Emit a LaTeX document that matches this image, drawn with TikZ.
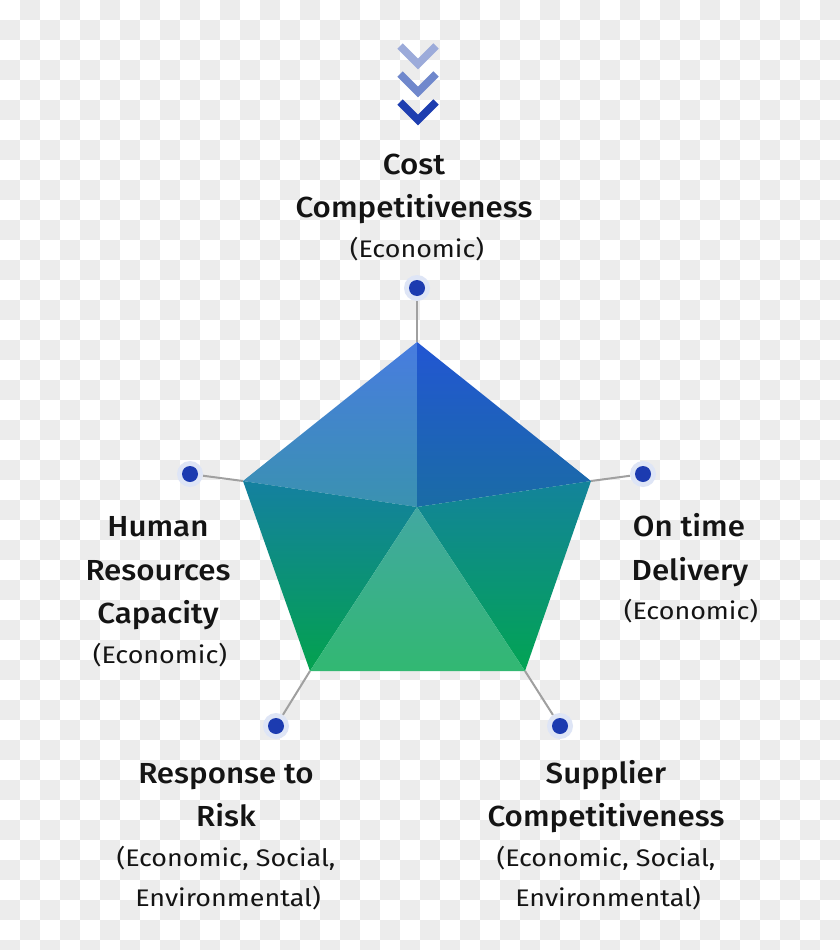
\documentclass[tikz,border=0pt]{standalone}
\usepackage{fontspec}
\setmainfont{Fira Sans}
\newfontfamily\medf[FakeStretch=1.08]{Fira Sans Medium}
\newfontfamily\regf[FakeStretch=1.12]{Fira Sans}
\begin{document}
\begin{tikzpicture}[x=1pt,y=-1pt,
  ttl/.style={font=\medf\fontsize{29}{35}\selectfont, anchor=base, inner sep=0, text=black!92},
  sub/.style={font=\regf\fontsize{24}{29}\selectfont, anchor=base, inner sep=0, text=black!92},
  halo/.style={circle, fill=haloc, minimum size=26pt, inner sep=0},
  dotc/.style={circle, fill=dotblue, minimum size=16pt, inner sep=0},
  spoke/.style={draw=spokegray, line width=2pt},
  chev/.style={line width=7.5pt, line join=miter, line cap=butt}]
\definecolor{chk}{RGB}{236,236,236}
\definecolor{haloc}{RGB}{222,229,246}
\definecolor{dotblue}{RGB}{28,59,176}
\definecolor{spokegray}{RGB}{160,160,160}
\definecolor{chA}{RGB}{156,171,218}
\definecolor{chB}{RGB}{112,136,204}
\definecolor{chC}{RGB}{30,62,176}
\definecolor{tlT}{RGB}{72,124,224}\definecolor{tlB}{RGB}{58,146,176}
\definecolor{trT}{RGB}{34,86,211}\definecolor{trB}{RGB}{26,108,165}
\definecolor{llT}{RGB}{20,128,160}\definecolor{llB}{RGB}{3,162,78}
\definecolor{lrT}{RGB}{19,131,155}\definecolor{lrB}{RGB}{2,164,83}
\definecolor{btT}{RGB}{66,168,162}\definecolor{btB}{RGB}{50,184,114}
\useasboundingbox (0,0) rectangle (840,950);
\clip (0,0) rectangle (840,950);
% checkerboard background
\fill[white] (0,0) rectangle (840,950);
\foreach \i in {0,...,20} \foreach \j in {0,...,23} {
  \fill[chk] (40*\i+20,40*\j) rectangle ++(20,20);
  \fill[chk] (40*\i,40*\j+20) rectangle ++(20,20);
}
% chevrons
\draw[chev, chA] (400,46) -- (418,64) -- (436,46);
\draw[chev, chB] (400,74) -- (418,92) -- (436,74);
\draw[chev, chC] (400,102) -- (418,120) -- (436,102);
% pentagon vertices
\coordinate (vT) at (417,342);
\coordinate (vR) at (591,481);
\coordinate (vBR) at (525,671);
\coordinate (vBL) at (310,671);
\coordinate (vL) at (243,481);
\coordinate (vC) at (417,507);
% dots
\node[halo] (h1) at (417,288) {};
\node[halo] (h2) at (643,474) {};
\node[halo] (h3) at (190,474) {};
\node[halo] (h4) at (276,726) {};
\node[halo] (h5) at (560,726) {};
\node[dotc] (d1) at (h1) {};
\node[dotc] (d2) at (h2) {};
\node[dotc] (d3) at (h3) {};
\node[dotc] (d4) at (h4) {};
\node[dotc] (d5) at (h5) {};
% spokes
\draw[spoke] (vT) -- (h1);
\draw[spoke] (vR) -- (h2);
\draw[spoke] (vL) -- (h3);
\draw[spoke] (vBL) -- (h4);
\draw[spoke] (vBR) -- (h5);
% faces
\shade[top color=tlT, bottom color=tlB] (vT) -- (vL) -- (vC) -- cycle;
\shade[top color=trT, bottom color=trB] (vT) -- (vR) -- (vC) -- cycle;
\shade[top color=llT, bottom color=llB] (vL) -- (vC) -- (vBL) -- cycle;
\shade[top color=lrT, bottom color=lrB] (vR) -- (vC) -- (vBR) -- cycle;
\shade[top color=btT, bottom color=btB] (vC) -- (vBL) -- (vBR) -- cycle;
% labels
\node[ttl] (t1a) at (414,174) {Cost};
\node[ttl] (t1b) at (414,217) {Competitiveness};
\node[sub] (t1c) at (417,257) {(Economic)};
\node[ttl] (t2a) at (689,536) {On time};
\node[ttl] (t2b) at (690,580) {Delivery};
\node[sub] (t2c) at (691,619) {(Economic)};
\node[ttl] (t3a) at (158,536) {Human};
\node[ttl] (t3b) at (158,580) {Resources};
\node[ttl] (t3c) at (158,623) {Capacity};
\node[sub] (t3d) at (160,663) {(Economic)};
\node[ttl] (t4a) at (226,783) {Response to};
\node[ttl] (t4b) at (226,826) {Risk};
\node[sub] (t4c) at (226,866) {(Economic, Social,};
\node[sub] (t4d) at (228,906) {Environmental)};
\node[ttl] (t5a) at (606,783) {Supplier};
\node[ttl] (t5b) at (606,826) {Competitiveness};
\node[sub] (t5c) at (606,866) {(Economic, Social,};
\node[sub] (t5d) at (608,906) {Environmental)};
\end{tikzpicture}
\end{document}
